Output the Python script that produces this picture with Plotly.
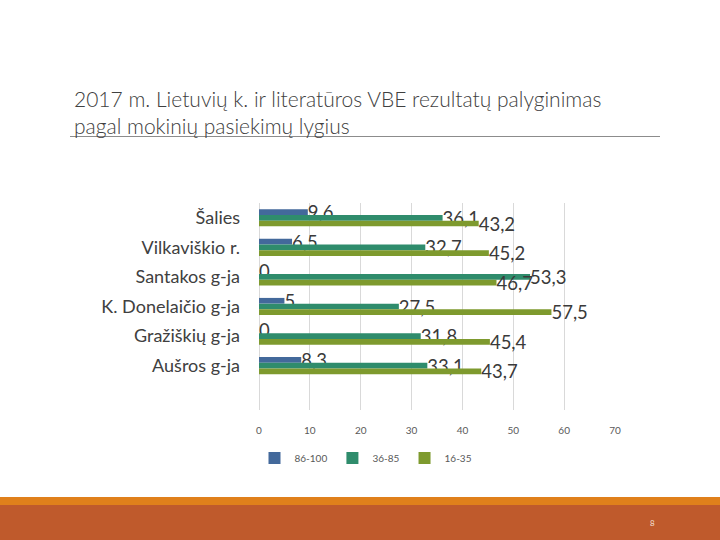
import plotly.graph_objects as go

# ---- data ----
categories = ["Šalies", "Vilkaviškio r.", "Santakos g-ja", "K. Donelaičio g-ja", "Gražiškių g-ja", "Aušros g-ja"]
series_names = ["86-100", "36-85", "16-35"]
v_86_100 = [9.6, 6.5, 0, 5, 0, 8.3]
v_36_85 = [36.1, 32.7, 53.3, 27.5, 31.8, 33.1]
v_16_35 = [43.2, 45.2, 46.7, 57.5, 45.4, 43.7]
x_ticks = [0, 10, 20, 30, 40, 50, 60, 70]
title_text = "2017 m. Lietuvių k. ir literatūros VBE rezultatų palyginimas<br>pagal mokinių pasiekimų lygius"
page_number = "8"

colors = ["#43699B", "#2F8C6C", "#7E9A2E"]

W, H = 720, 540
PL, PR, PT, PB = 259, 615, 203, 410


def px(x):
    return (x - PL) / (PR - PL)


def py(y):
    return (PB - y) / (PB - PT)


def fmt(v):
    s = ("%.1f" % v).rstrip("0").rstrip(".")
    return s.replace(".", ",")


fig = go.Figure()
for name, vals, col in zip(series_names, [v_86_100, v_36_85, v_16_35], colors):
    fig.add_trace(go.Bar(
        y=categories, x=vals, name=name, orientation="h",
        marker=dict(color=col, line=dict(width=0)),
        text=[fmt(v) for v in vals], textposition="outside",
        textfont=dict(family="Lato", size=18.5, color="#3A3A3A"),
        constraintext="none", cliponaxis=False,
    ))

fig.update_layout(
    width=W, height=H,
    margin=dict(l=PL, r=W - PR, t=PT, b=H - PB),
    paper_bgcolor="white", plot_bgcolor="white",
    barmode="group", bargap=0.42, bargroupgap=0,
    showlegend=True,
    legend=dict(orientation="h", x=px(366), xanchor="center", y=py(458), yanchor="middle",
                font=dict(family="Lato", size=10, color="#595959"),
                bgcolor="rgba(0,0,0,0)", itemwidth=30, tracegroupgap=0),
    xaxis=dict(range=[0, 70], tickvals=x_ticks, showgrid=True, gridcolor="#D9D9D9", gridwidth=1,
               zeroline=True, zerolinecolor="#D9D9D9", zerolinewidth=1, showline=False,
               ticks="", ticklabelstandoff=13,
               tickfont=dict(family="Lato", size=10, color="#595959"), fixedrange=True),
    yaxis=dict(type="category", categoryorder="array", categoryarray=categories,
               range=[6.5, -0.5], showgrid=False, zeroline=False, showline=False, ticks="",
               ticklabelstandoff=18,
               tickfont=dict(family="Lato", size=18, color="#404040"), fixedrange=True),
    font=dict(family="Lato"),
)

shapes = [
    # title underline
    dict(type="line", xref="paper", yref="paper", x0=px(70), x1=px(660), y0=py(136.5), y1=py(136.5),
         line=dict(color="#8C8C8C", width=1)),
    # bottom orange strip
    dict(type="rect", xref="paper", yref="paper", x0=px(-2), x1=px(722), y0=py(497), y1=py(505),
         fillcolor="#E0801B", line=dict(width=0), layer="above"),
    dict(type="rect", xref="paper", yref="paper", x0=px(-2), x1=px(722), y0=py(505), y1=py(542),
         fillcolor="#BF5A2C", line=dict(width=0), layer="above"),
]
fig.update_layout(shapes=shapes)

fig.add_annotation(text=title_text, xref="paper", yref="paper", x=px(72), y=py(84),
                   xanchor="left", yanchor="top", align="left", showarrow=False,
                   font=dict(family="Lato", size=21, color="#404040", weight=300))
fig.add_annotation(text=page_number, xref="paper", yref="paper", x=px(652), y=py(523),
                   xanchor="center", yanchor="middle", showarrow=False,
                   font=dict(family="Lato", size=8, color="#F4E0D4"))

fig.write_html("out.html", config={"displayModeBar": False},
               post_script="document.body.style.margin='0px';")
